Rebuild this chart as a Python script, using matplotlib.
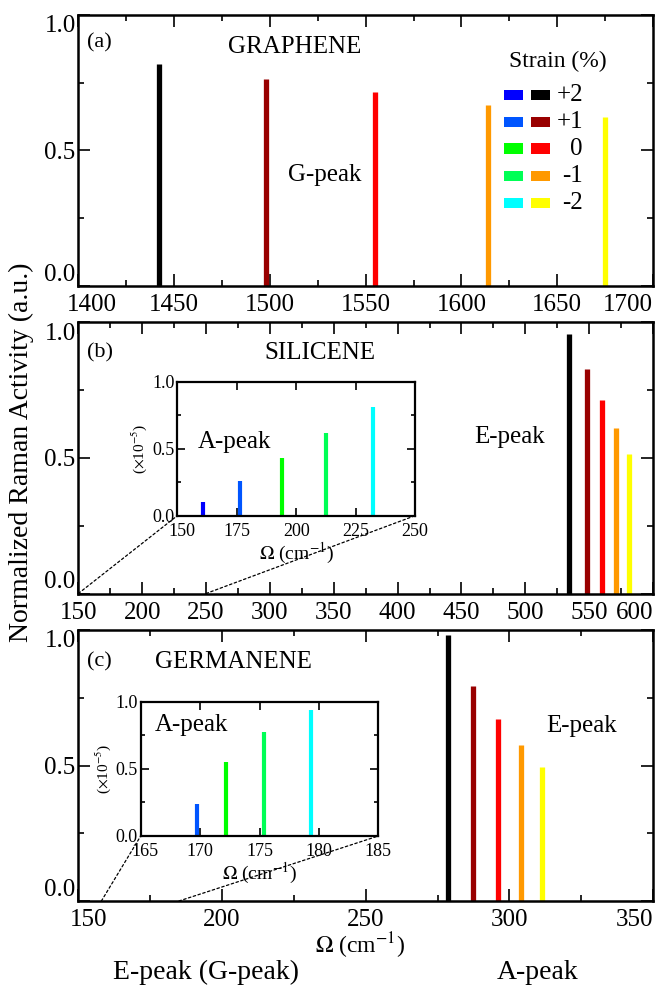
import matplotlib
matplotlib.use('Agg')
import matplotlib.pyplot as plt
from matplotlib.patches import Rectangle, ConnectionPatch
from matplotlib.transforms import ScaledTranslation

plt.rcParams['font.family'] = ['Liberation Serif', 'DejaVu Serif']
plt.rcParams['mathtext.fontset'] = 'stix'

# strain levels and the colours used for E (G) peaks and A peaks
strain_labels = ['+2', '+1', '0', '-1', '-2']
e_colors = ['#000000', '#990000', '#ff0000', '#ff9900', '#ffff00']
a_colors = ['#0000ff', '#0055ff', '#00ff00', '#00ff55', '#00ffff']

# graphene G-peak
graphene_g_freq = [1442, 1498, 1555, 1614, 1675]
graphene_g_int = [0.82, 0.765, 0.717, 0.668, 0.623]

# silicene E-peak and A-peak (A-peak in units of 1e-5)
silicene_e_freq = [534, 548, 560, 571, 581]
silicene_e_int = [0.957, 0.828, 0.714, 0.61, 0.515]
silicene_a_freq = [160.7, 176.2, 193.9, 212.4, 232.2]
silicene_a_int = [0.10, 0.259, 0.433, 0.617, 0.813]

# germanene E-peak and A-peak (+2 % A-peak lies outside the zoom window)
germanene_e_freq = [278.5, 287.3, 296.0, 304.1, 311.5]
germanene_e_int = [0.98, 0.795, 0.672, 0.575, 0.494]
germanene_a_freq = [169.7, 172.2, 175.4, 179.3]
germanene_a_int = [0.238, 0.551, 0.774, 0.938]
germanene_a_colors = a_colors[1:]

fig = plt.figure(figsize=(6.63, 9.86), dpi=100)

W, H = 663.0, 986.0
def box(left, top, right, bottom):
    return [left / W, 1 - bottom / H, (right - left) / W, (bottom - top) / H]

ax_a = fig.add_axes(box(78.4, 15, 653, 286))
ax_b = fig.add_axes(box(78.4, 322.5, 653, 593.5))
ax_c = fig.add_axes(box(78.4, 630, 653, 901))
in_b = fig.add_axes(box(177.3, 381.7, 415, 515.7))
in_c = fig.add_axes(box(140.7, 701.7, 378.3, 836))


def style(ax, xlim, xticks, xminor, size=18, major=8.5, minor=4):
    ax.set_xlim(*xlim)
    ax.set_ylim(0, 1)
    ax.set_xticks(xticks, [str(t) for t in xticks])
    ax.set_xticks(xminor, minor=True)
    ax.set_yticks([0, 0.5, 1.0], ['0.0', '0.5', '1.0'])
    ax.set_yticks([0.25, 0.75], minor=True)
    ax.tick_params(which='both', direction='in', top=True, right=True,
                   width=1.2, labelsize=size)
    ax.tick_params(which='major', length=major)
    ax.tick_params(which='minor', length=minor)
    ax.tick_params(axis='x', pad=6)
    ax.tick_params(axis='y', pad=2)
    for s in ax.spines.values():
        s.set_linewidth(1.8)
    return ax


def edge_labels(ax, first_shift=0):
    # keep the end labels inside the frame
    xl = ax.get_xticklabels()
    xl[-1].set_ha('right')
    if first_shift:
        xl[0].set_transform(xl[0].get_transform() +
                            ScaledTranslation(first_shift / 72, 0, fig.dpi_scale_trans))
    yl = ax.get_yticklabels()
    yl[0].set_va('bottom')
    yl[-1].set_va('top')


style(ax_a, (1400, 1700), list(range(1400, 1701, 50)), list(range(1425, 1700, 50)))
edge_labels(ax_a, 10)
style(ax_b, (150, 600), list(range(150, 601, 50)), list(range(175, 600, 50)))
edge_labels(ax_b)
style(ax_c, (150, 350), list(range(150, 351, 50)), list(range(175, 350, 50)))
edge_labels(ax_c, 7)
style(in_b, (150, 250), list(range(150, 251, 25)), [], size=13, major=5.5, minor=3)
style(in_c, (165, 185), list(range(165, 186, 5)), [], size=13, major=5.5, minor=3)
for ax in (in_b, in_c):
    ax.tick_params(axis='x', pad=5)
    for s in ax.spines.values():
        s.set_linewidth(1.6)
    # first x label sits just right of the corner, clear of the 0.0 label
    first = ax.get_xticklabels()[0]
    first.set_transform(first.get_transform() +
                        ScaledTranslation(3 / 72, 0, fig.dpi_scale_trans))

lw = 3.8
ax_a.vlines(graphene_g_freq, 0, graphene_g_int, colors=e_colors, lw=lw)
ax_b.vlines(silicene_e_freq, 0, silicene_e_int, colors=e_colors, lw=lw)
ax_c.vlines(germanene_e_freq, 0, germanene_e_int, colors=e_colors, lw=lw)
in_b.vlines(silicene_a_freq, 0, silicene_a_int, colors=a_colors, lw=3.0)
in_c.vlines(germanene_a_freq, 0, germanene_a_int, colors=germanene_a_colors, lw=3.0)

# panel captions
ax_a.text(0.015, 0.897, '(a)', transform=ax_a.transAxes, fontsize=16, va='center')
ax_b.text(0.015, 0.887, '(b)', transform=ax_b.transAxes, fontsize=16, va='center')
ax_c.text(0.015, 0.882, '(c)', transform=ax_c.transAxes, fontsize=16, va='center')
ax_a.text(0.377, 0.882, 'GRAPHENE', transform=ax_a.transAxes, fontsize=18,
          ha='center', va='center')
ax_b.text(0.42, 0.887, 'SILICENE', transform=ax_b.transAxes, fontsize=18,
          ha='center', va='center')
ax_c.text(0.27, 0.882, 'GERMANENE', transform=ax_c.transAxes, fontsize=18,
          ha='center', va='center')
ax_a.text(0.429, 0.41, 'G-peak', transform=ax_a.transAxes, fontsize=18,
          ha='center', va='center')
ax_b.text(0.751, 0.578, 'E-peak', transform=ax_b.transAxes, fontsize=18,
          ha='center', va='center')
ax_c.text(0.876, 0.646, 'E-peak', transform=ax_c.transAxes, fontsize=18,
          ha='center', va='center')
in_b.text(0.085, 0.55, 'A-peak', transform=in_b.transAxes, fontsize=18, va='center')
in_c.text(0.06, 0.83, 'A-peak', transform=in_c.transAxes, fontsize=18, va='center')

# strain legend: A-peak colour, E-peak colour, strain value
ax_a.text(0.834, 0.827, 'Strain (%)', transform=ax_a.transAxes, fontsize=17,
          ha='center', va='center')
rows_y = [0.705, 0.605, 0.506, 0.406, 0.306]
for y, ca, ce, lab in zip(rows_y, a_colors, e_colors, strain_labels):
    ax_a.add_patch(Rectangle((0.7407, y - 0.02), 0.0331, 0.04, color=ca,
                             transform=ax_a.transAxes, lw=0))
    ax_a.add_patch(Rectangle((0.7876, y - 0.02), 0.0331, 0.04, color=ce,
                             transform=ax_a.transAxes, lw=0))
    ax_a.text(0.878, y, lab, transform=ax_a.transAxes, fontsize=18,
              ha='right', va='center')

# inset axis labels
for ax in (in_b, in_c):
    ax.set_xlabel(r'$\Omega$ (cm$^{-1}$)', fontsize=14, labelpad=1)
    ax.set_ylabel(r'($\times$10$^{-5}$)', fontsize=11, labelpad=2)

# dashed guides from the main axis to the zoomed inset
links = [(ax_b, in_b, 150, 150), (ax_b, in_b, 250, 250),
         (ax_c, in_c, 158, 165), (ax_c, in_c, 185, 185)]
for main, ins, xm, xi in links:
    con = ConnectionPatch(xyA=(xm, 0), coordsA=main.transData,
                          xyB=(xi, 0), coordsB=ins.transData,
                          linestyle=(0, (2, 2)), lw=0.9, color='black')
    fig.add_artist(con)

fig.text(0.033, 0.5416, 'Normalized Raman Activity (a.u.)', rotation=90,
         fontsize=20, ha='center', va='center')
fig.text(0.543, 0.041, r'$\Omega$ (cm$^{-1}$)', fontsize=17, ha='center', va='center')
fig.text(0.311, 0.0137, 'E-peak (G-peak)', fontsize=20, ha='center', va='center')
fig.text(0.811, 0.0137, 'A-peak', fontsize=20, ha='center', va='center')

fig.savefig('out.png', dpi=100)
